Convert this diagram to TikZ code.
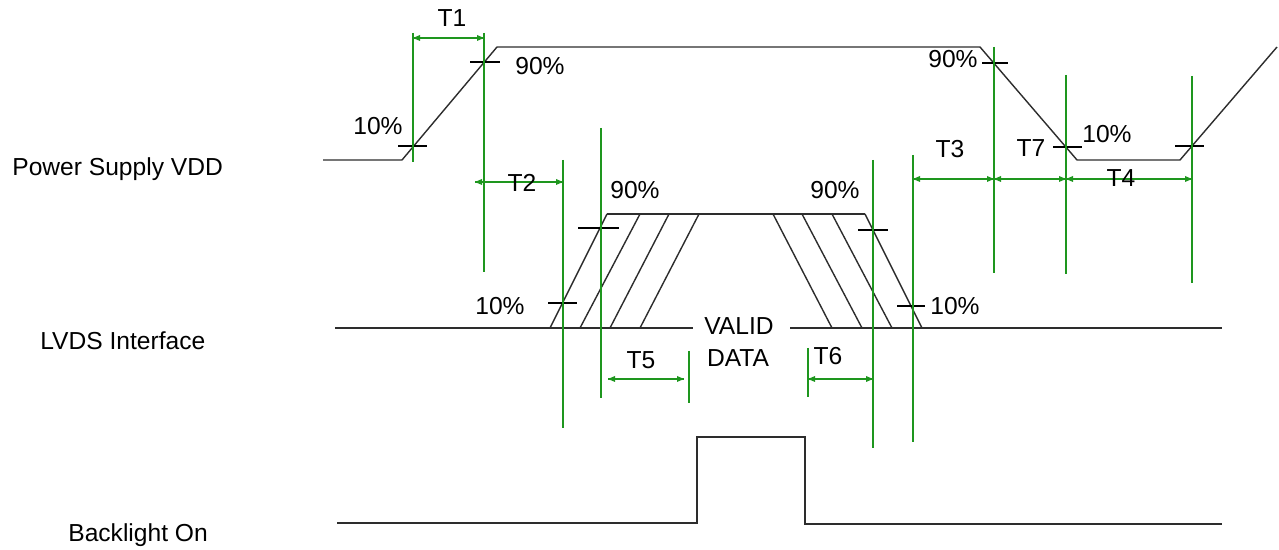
\documentclass[tikz,border=0pt]{standalone}
\usepackage{fontspec}
\setmainfont{Liberation Sans}
\usepackage{xcolor}
\definecolor{sigline}{RGB}{45,45,45}
\definecolor{dimgreen}{RGB}{30,150,30}

\begin{document}
\begin{tikzpicture}[x=0.02cm, y=0.02cm]
\tikzstyle{every node}+=[inner sep=0pt, font=\fontsize{14}{16}\selectfont]
\tikzstyle{sig}=[sigline, line width=0.8pt]
\tikzstyle{tick}=[black, line width=0.6pt]
\tikzstyle{guide}=[dimgreen, line width=1.1pt]
\tikzstyle{dim}=[dimgreen, line width=0.8pt]
\useasboundingbox (0,0) rectangle (1279,-550);
% row labels
\node [anchor=base west] (lvdd) at (12,-176) {Power Supply VDD};
\node [anchor=base west] (llvds) at (40,-350) {LVDS Interface};
\node [anchor=base west] (lback) at (68,-542) {Backlight On};
% power supply
\draw [sig] (323,-160) -- (402,-160) -- (497,-47) -- (980,-47) -- (1077,-160) -- (1180,-160) -- (1277,-47);
\draw [tick] (398,-146) -- (427,-146);
\draw [tick] (470,-62) -- (500,-62);
\draw [tick] (982,-63) -- (1008,-63);
\draw [tick] (1053,-147) -- (1082,-147);
\draw [tick] (1175,-146) -- (1204,-146);
% lvds interface
\draw [sig] (335,-328) -- (693,-328);
\draw [sig] (790,-328) -- (1222,-328);
\draw [sig] (607,-214) -- (865,-214);
\draw [sig] (550,-328) -- (607,-214);
\draw [sig] (580,-328) -- (640,-214);
\draw [sig] (610,-328) -- (669,-214);
\draw [sig] (640,-328) -- (699,-214);
\draw [sig] (773,-214) -- (832,-328);
\draw [sig] (802,-214) -- (862,-328);
\draw [sig] (832,-214) -- (892,-328);
\draw [sig] (865,-214) -- (922,-328);
\draw [tick] (548,-303) -- (577,-303);
\draw [tick] (578,-228) -- (619,-228);
\draw [tick] (858,-230) -- (888,-230);
\draw [tick] (897,-306) -- (925,-306);
% backlight
\draw [sig] (337,-523) -- (697,-523) -- (697,-437) -- (805,-437) -- (805,-524) -- (1222,-524);
% green guides
\draw [guide] (413,-33) -- (413,-162);
\draw [guide] (484,-33) -- (484,-272);
\draw [guide] (563,-160) -- (563,-428);
\draw [guide] (601,-128) -- (601,-398);
\draw [guide] (689,-351) -- (689,-403);
\draw [guide] (808,-348) -- (808,-397);
\draw [guide] (873,-160) -- (873,-448);
\draw [guide] (913,-155) -- (913,-442);
\draw [guide] (994,-47) -- (994,-273);
\draw [guide] (1066,-75) -- (1066,-274);
\draw [guide] (1192,-76) -- (1192,-283);
% dimension arrows
\draw [dim] (413,-38) -- (484,-38);
\fill [dimgreen] (413,-38) -- (420,-35) -- (420,-41);
\fill [dimgreen] (484,-38) -- (477,-35) -- (477,-41);
\draw [dim] (475,-182) -- (563,-182);
\fill [dimgreen] (475,-182) -- (482,-179) -- (482,-185);
\fill [dimgreen] (563,-182) -- (556,-179) -- (556,-185);
\draw [dim] (608,-379) -- (684,-379);
\fill [dimgreen] (608,-379) -- (615,-376) -- (615,-382);
\fill [dimgreen] (684,-379) -- (677,-376) -- (677,-382);
\draw [dim] (808,-379) -- (873,-379);
\fill [dimgreen] (808,-379) -- (815,-376) -- (815,-382);
\fill [dimgreen] (873,-379) -- (866,-376) -- (866,-382);
\draw [dim] (913,-179) -- (994,-179);
\fill [dimgreen] (913,-179) -- (920,-176) -- (920,-182);
\fill [dimgreen] (994,-179) -- (987,-176) -- (987,-182);
\draw [dim] (994,-179) -- (1066,-179);
\fill [dimgreen] (994,-179) -- (1001,-176) -- (1001,-182);
\fill [dimgreen] (1066,-179) -- (1059,-176) -- (1059,-182);
\draw [dim] (1066,-179) -- (1192,-179);
\fill [dimgreen] (1066,-179) -- (1073,-176) -- (1073,-182);
\fill [dimgreen] (1192,-179) -- (1185,-176) -- (1185,-182);
% labels
\node [anchor=base] (t1) at (452,-27) {T1};
\node [anchor=base] (t2) at (522,-192) {T2};
\node [anchor=base] (t3) at (950,-158) {T3};
\node [anchor=base] (t4) at (1121,-187) {T4};
\node [anchor=base] (t5) at (641,-369) {T5};
\node [anchor=base] (t6) at (828,-365) {T6};
\node [anchor=base] (t7) at (1031,-157) {T7};
\node [anchor=base] (pup90) at (540,-75) {90\%};
\node [anchor=base] (pup10) at (378,-135) {10\%};
\node [anchor=base] (pdn90) at (953,-68) {90\%};
\node [anchor=base] (pdn10) at (1107,-143) {10\%};
\node [anchor=base] (lup90) at (635,-199) {90\%};
\node [anchor=base] (lup10) at (500,-315) {10\%};
\node [anchor=base] (ldn90) at (835,-199) {90\%};
\node [anchor=base] (ldn10) at (955,-315) {10\%};
\node [anchor=base] (valid) at (739,-335) {VALID};
\node [anchor=base] (data) at (738,-367) {DATA};
\end{tikzpicture}
\end{document}
